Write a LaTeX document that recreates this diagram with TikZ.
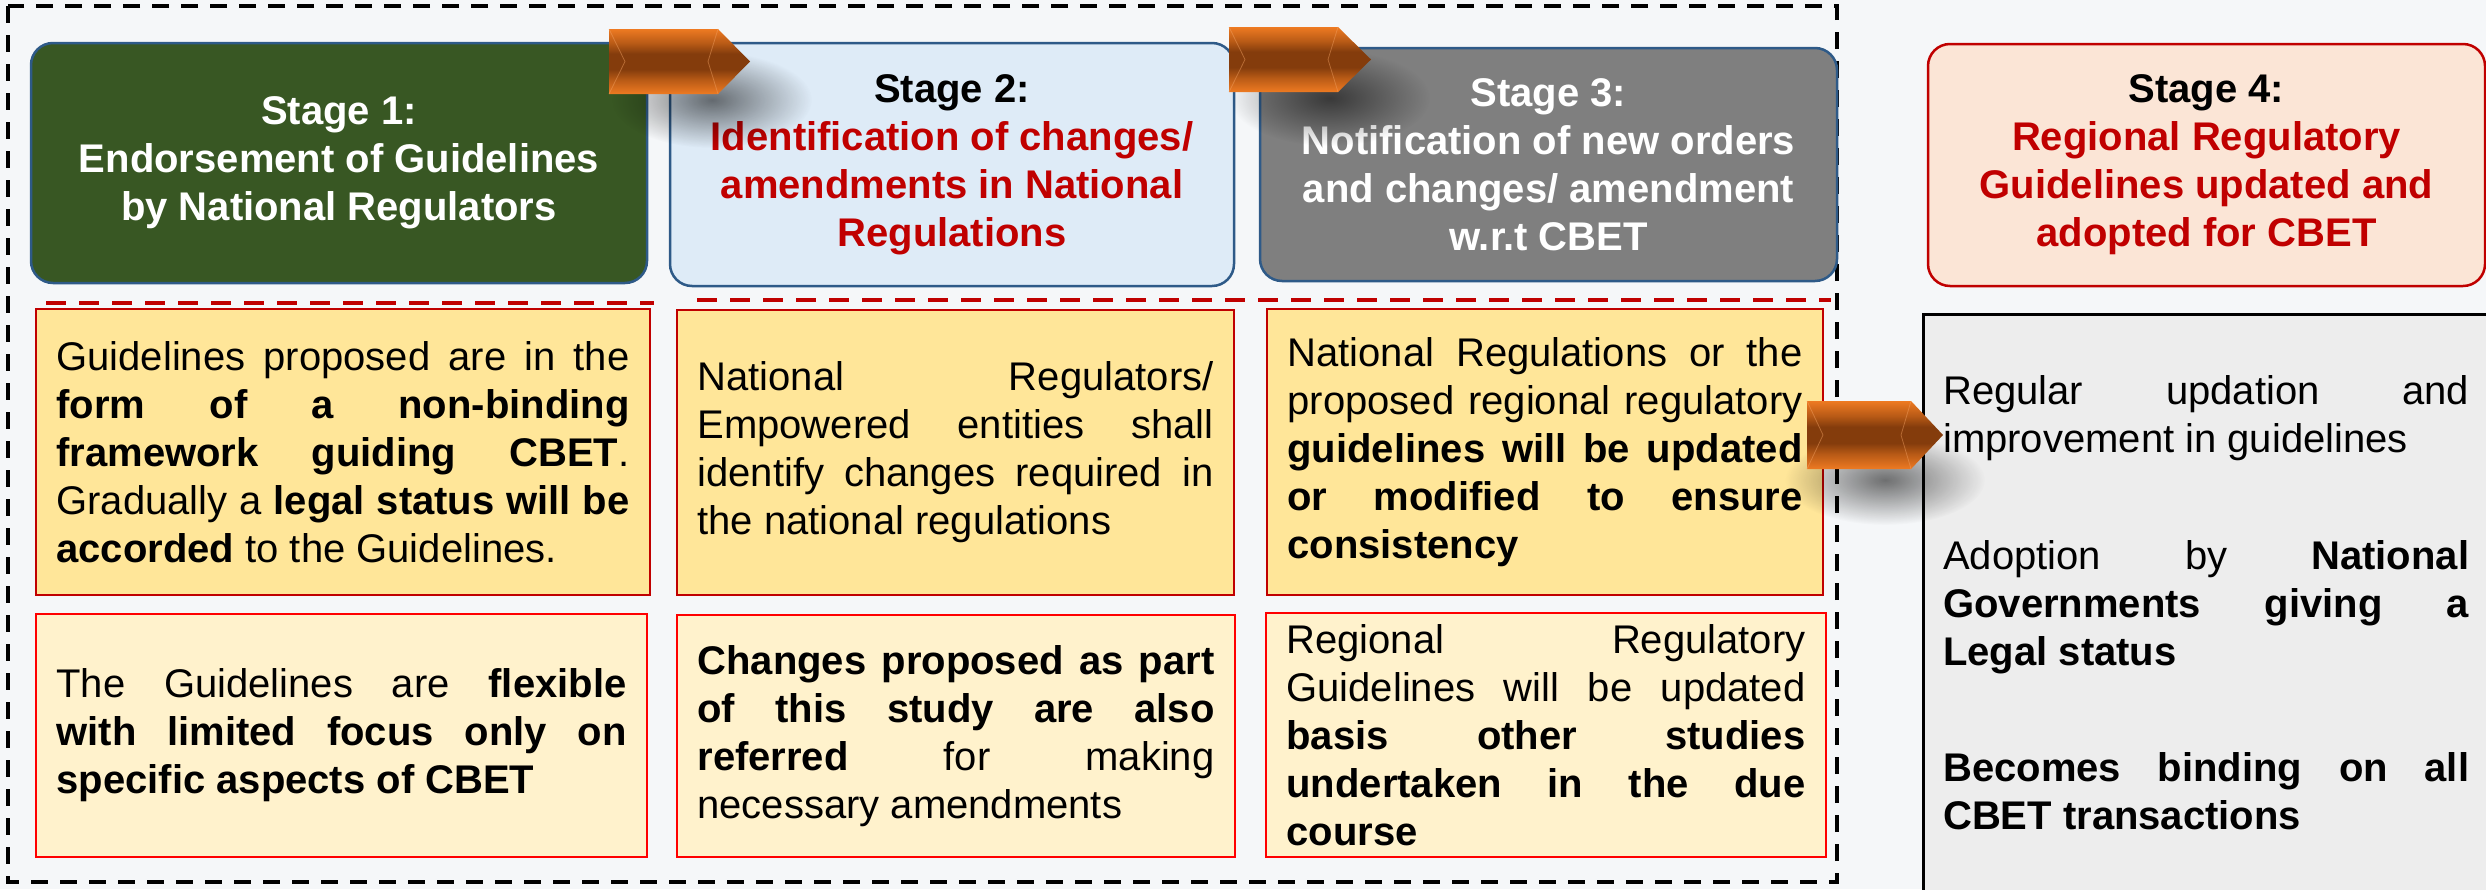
\documentclass[tikz,border=0pt]{standalone}
\usepackage{fontspec}
\setmainfont{Liberation Sans}
\usetikzlibrary{fadings}
\definecolor{bgc}{HTML}{F5F7F9}
\definecolor{sgreen}{HTML}{385723}
\definecolor{sblue}{HTML}{DEEBF7}
\definecolor{sgray}{HTML}{7F7F7F}
\definecolor{speach}{HTML}{FBE5D6}
\definecolor{sborder}{HTML}{2E5A88}
\definecolor{darkred}{HTML}{C00000}
\definecolor{uyellow}{HTML}{FFE699}
\definecolor{lyellow}{HTML}{FFF2CC}
\definecolor{pureRed}{HTML}{FF0000}
\definecolor{graybox}{HTML}{EDEDED}
\definecolor{arrowlight}{HTML}{EE7A22}
\definecolor{arrowmid}{HTML}{B85A16}
\definecolor{arrowdark}{HTML}{843C0C}
\pgfdeclareverticalshading{chevshade}{100bp}{color(0bp)=(arrowlight); color(25bp)=(arrowlight);
  color(36bp)=(arrowmid); color(44bp)=(arrowdark); color(56bp)=(arrowdark); color(64bp)=(arrowmid);
  color(75bp)=(arrowlight); color(100bp)=(arrowlight)}
\tikzfading[name=softshadow, inner color=transparent!0, outer color=transparent!100]
\begin{document}
\begin{tikzpicture}[x=1pt,y=-1pt,
  stagebox/.style={draw=sborder, line width=2.5pt, rounded corners=22pt, align=center,
    font=\bfseries\fontsize{40}{48}\selectfont, inner sep=0pt},
  ubox/.style={draw=darkred, fill=uyellow, line width=2.2pt, inner xsep=20.5pt, inner ysep=0pt,
    align=justify, font=\fontsize{40}{48}\selectfont},
  lbox/.style={ubox, draw=pureRed, fill=lyellow},
  gtext/.style={anchor=base west, inner sep=0pt, text width=526pt, align=justify,
    font=\fontsize{40}{48}\selectfont},
  chevron/.style={shading=chevshade},
  bevel/.style={draw=arrowlight!70!white, opacity=0.45, line width=0.8pt},
  shadowblob/.style={fill=black, opacity=0.55, path fading=softshadow},
  outerdash/.style={draw=black, line width=3.5pt, dash pattern=on 17pt off 12pt},
  reddash/.style={draw=darkred, line width=4pt, dash pattern=on 20pt off 13pt}
]
\tolerance=10000 \hbadness=10000 \hyphenpenalty=10000 \exhyphenpenalty=10000
\useasboundingbox (0,0) rectangle (2486,889);
\clip (0,0) rectangle (2486,889);
\fill[bgc] (0,0) rectangle (2486,889);

% outer dashed frame
\draw[outerdash] (8,6) rectangle (1837,882);

% stage boxes
\node[stagebox, fill=sgreen, text=white, minimum width=616pt, minimum height=240pt] (s1) at (339,163)
  {Stage 1:\\Endorsement of Guidelines\\by National Regulators};
\node[stagebox, fill=sblue, text=darkred, minimum width=564pt, minimum height=243pt] (s2) at (952,164.5)
  {\textcolor{black}{Stage 2:}\\Identification of changes/\\amendments in National\\Regulations};
\node[stagebox, fill=sgray, text=white, minimum width=577pt, minimum height=233pt] (s3) at (1548.5,164.5)
  {Stage 3:\\Notification of new orders\\and changes/ amendment\\w.r.t CBET};
\node[stagebox, draw=darkred, fill=speach, text=darkred, minimum width=557pt, minimum height=242pt] (s4) at (2206.5,165)
  {\textcolor{black}{Stage 4:}\\Regional Regulatory\\Guidelines updated and\\adopted for CBET};

% red dashed separators
\coordinate (r1a) at (46,303);
\coordinate (r1b) at (654,303);
\coordinate (r2a) at (697,300);
\coordinate (r2b) at (1831,300);
\draw[reddash] (r1a) -- (r1b);
\draw[reddash] (r2a) -- (r2b);

% upper boxes
\node[ubox, text width=573pt, minimum height=286pt] (b1) at (343,452)
  {Guidelines proposed are in the\linebreak \textbf{form of a non-binding}\linebreak \textbf{framework guiding CBET}. \linebreak Gradually a \textbf{legal status will be}\linebreak \textbf{accorded} to the Guidelines.};
\node[ubox, text width=516pt, minimum height=285pt] (b2) at (955.5,452.5)
  {National Regulators/\linebreak Empowered entities shall\linebreak identify changes required in\linebreak the national regulations};
\node[ubox, text width=515pt, minimum height=286pt] (b3) at (1545,452)
  {National Regulations or the\linebreak proposed regional regulatory\linebreak \textbf{guidelines will be updated}\linebreak \textbf{or modified to ensure}\linebreak \textbf{consistency}};

% lower boxes
\node[lbox, text width=570pt, minimum height=243pt] (b4) at (341.5,735.5)
  {The Guidelines are \textbf{flexible}\linebreak \textbf{with limited focus only on}\linebreak \textbf{specific aspects of CBET}};
\node[lbox, text width=517pt, minimum height=242pt] (b5) at (956,736)
  {\textbf{Changes proposed as part}\linebreak \textbf{of this study are also}\linebreak \textbf{referred} for making\linebreak necessary amendments};
\node[lbox, text width=519pt, minimum height=244pt] (b6) at (1546,735)
  {Regional Regulatory\linebreak Guidelines will be updated\linebreak \textbf{basis other studies}\linebreak \textbf{undertaken in the due}\linebreak \textbf{course}};

% gray outcome box
\node[draw=black, fill=graybox, line width=2.5pt, anchor=north west, minimum width=640pt, minimum height=640pt, inner sep=0pt] (gbox) at (1922,313) {};
\node[gtext] (g1) at (1943,404) {Regular updation and\linebreak improvement in guidelines};
\node[gtext] (g2) at (1943,569) {Adoption by \textbf{National}\linebreak \textbf{Governments giving a}\linebreak \textbf{Legal status}};
\node[gtext] (g3) at (1943,781) {\textbf{Becomes binding on all}\linebreak \textbf{CBET transactions}};

% shadows
\fill[shadowblob] (712,100) ellipse [x radius=100, y radius=48];
\fill[shadowblob] (1330,98) ellipse [x radius=100, y radius=48];
\fill[shadowblob] (1885,480) ellipse [x radius=100, y radius=45];

% chevrons: x0, x1 (end of flat part), xt (tip), y0, y1
\foreach \xa/\xb/\xt/\ya/\yb in {609/718/750/29/94, 1229/1338/1371/27/92, 1807/1911/1943/401/469}{
  \pgfmathsetmacro{\ym}{(\ya+\yb)/2}
  \shade[chevron] (\xa,\ya) -- (\xb,\ya) -- (\xt,\ym) -- (\xb,\yb) -- (\xa,\yb) -- cycle;
  \draw[bevel] (\xa,\ya) -- (\xa+16,\ym) -- (\xa,\yb);
  \draw[bevel] (\xb,\ya) -- (\xb-10,\ym) -- (\xb,\yb);
}
\end{tikzpicture}
\end{document}
